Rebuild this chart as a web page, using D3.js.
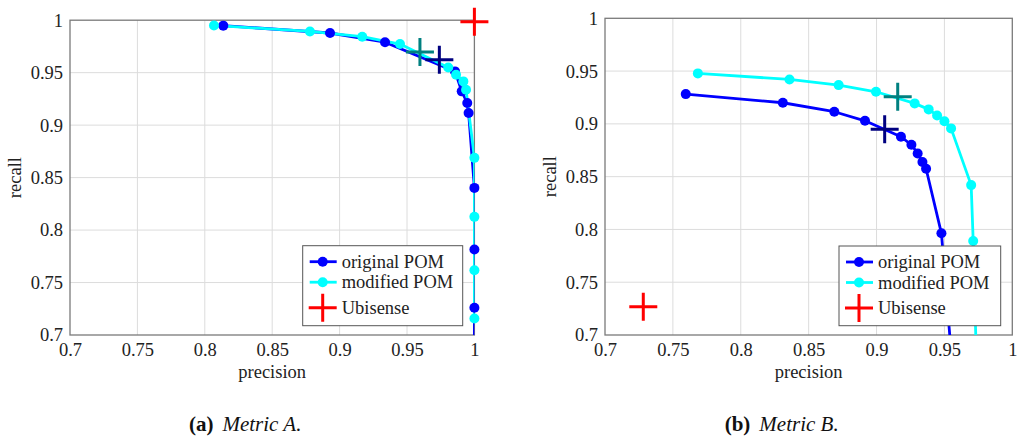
<!DOCTYPE html>
<html>
<head>
<meta charset="utf-8">
<script src="https://cdn.jsdelivr.net/npm/d3@7"></script>
<style>
  body { margin: 0; background: #fff; }
  svg text { font-family: "Liberation Serif", serif; }
  .tick text { font-size: 18.5px; fill: #222; }
  .lbl { font-size: 18.5px; fill: #222; }
</style>
</head>
<body>
<div id="chart"></div>
<script>
var width = 1024, height = 440;

// Metric A
var origA_prec = [0.8137, 0.8929, 0.9337, 0.9856, 0.9906, 0.9947, 0.9957, 1.0, 1.0, 1.0, 1.0];
var origA_rec  = [0.9948, 0.9878, 0.979, 0.9512, 0.9322, 0.9211, 0.9116, 0.8402, 0.7814, 0.7259, 0.62];
var modA_prec  = [0.8068, 0.878, 0.9168, 0.9448, 0.9806, 0.9864, 0.9918, 0.9938, 1.0, 1.0, 1.0, 1.0];
var modA_rec   = [0.995, 0.9893, 0.9843, 0.9773, 0.955, 0.948, 0.9417, 0.9338, 0.8688, 0.8126, 0.7617, 0.7157];
// single operating points: [original, modified, ubisense]
var pointA_prec = [0.974, 0.9596, 1.0];
var pointA_rec  = [0.9624, 0.9697, 0.9986];

// Metric B
var origB_prec = [0.7595, 0.831, 0.8689, 0.8915, 0.918, 0.9257, 0.9303, 0.9338, 0.9365, 0.9478, 0.9552];
var origB_rec  = [0.9282, 0.92, 0.9115, 0.9029, 0.8878, 0.8802, 0.872, 0.8638, 0.8575, 0.7963, 0.68];
var modB_prec  = [0.7684, 0.8359, 0.8721, 0.8996, 0.9281, 0.9384, 0.9446, 0.95, 0.9549, 0.9697, 0.9712, 0.9735];
var modB_rec   = [0.9478, 0.9421, 0.9367, 0.9304, 0.9194, 0.9137, 0.908, 0.9024, 0.8957, 0.842, 0.789, 0.68];
var pointB_prec = [0.906, 0.9156, 0.7282];
var pointB_rec  = [0.8948, 0.9257, 0.7268];

var ticks = [0.7, 0.75, 0.8, 0.85, 0.9, 0.95, 1];
var legendNames = ["original POM", "modified POM", "Ubisense"];
var lineColors = ["#0000ff", "#00ffff"];
var crossColors = ["#000080", "#008080", "#ff0000"];

var svg = d3.select("#chart").append("svg").attr("width", width).attr("height", height);

function zip(a, b) {
  return a.map(function(v, i) { return [v, b[i]]; });
}

function drawPanel(id, box, series, points, legendBox, caption) {
  var x = d3.scaleLinear().domain([0.7, 1]).range([box.x0, box.x1]);
  var y = d3.scaleLinear().domain([0.7, 1]).range([box.y0, box.y1]);
  var g = svg.append("g");

  g.append("clipPath").attr("id", "clip" + id).append("rect")
    .attr("x", box.x0).attr("y", box.y1)
    .attr("width", box.x1 - box.x0).attr("height", box.y0 - box.y1);

  // grid
  g.selectAll(".gx").data(ticks.slice(1, -1)).enter().append("line")
    .attr("x1", function(d) { return x(d); }).attr("x2", function(d) { return x(d); })
    .attr("y1", box.y0).attr("y2", box.y1)
    .attr("stroke", "#dcdcdc").attr("stroke-width", 1);
  g.selectAll(".gy").data(ticks.slice(1, -1)).enter().append("line")
    .attr("y1", function(d) { return y(d); }).attr("y2", function(d) { return y(d); })
    .attr("x1", box.x0).attr("x2", box.x1)
    .attr("stroke", "#dcdcdc").attr("stroke-width", 1);

  var fmt = function(d) { return String(+d.toFixed(2)); };
  var xa = g.append("g").attr("transform", "translate(0," + box.y0 + ")")
    .call(d3.axisBottom(x).tickValues(ticks).tickFormat(fmt).tickSize(0).tickPadding(8));
  var ya = g.append("g").attr("transform", "translate(" + box.x0 + ",0)")
    .call(d3.axisLeft(y).tickValues(ticks).tickFormat(fmt).tickSize(0).tickPadding(7));
  xa.select(".domain").remove();
  ya.select(".domain").remove();
  xa.attr("font-family", null);
  ya.attr("font-family", null);

  g.append("rect").attr("x", box.x0).attr("y", box.y1)
    .attr("width", box.x1 - box.x0).attr("height", box.y0 - box.y1)
    .attr("fill", "none").attr("stroke", "#7a7a7a").attr("stroke-width", 1.3);

  var line = d3.line().x(function(d) { return x(d[0]); }).y(function(d) { return y(d[1]); });

  series.forEach(function(s, i) {
    g.append("path").datum(s).attr("d", line)
      .attr("clip-path", "url(#clip" + id + ")")
      .attr("fill", "none").attr("stroke", lineColors[i]).attr("stroke-width", 2.8)
      .attr("stroke-linejoin", "round");
  });
  series.forEach(function(s, i) {
    g.selectAll(".m" + i).data(s.filter(function(d) { return d[1] >= 0.7 && d[0] >= 0.7; }))
      .enter().append("circle")
      .attr("cx", function(d) { return x(d[0]); })
      .attr("cy", function(d) { return y(d[1]); })
      .attr("r", 5).attr("fill", lineColors[i]);
  });

  function cross(sel, cx, cy, color) {
    sel.append("path")
      .attr("d", "M" + (cx - 14) + "," + cy + "H" + (cx + 14) + "M" + cx + "," + (cy - 14) + "V" + (cy + 14))
      .attr("stroke", color).attr("stroke-width", 3).attr("fill", "none");
  }
  points.forEach(function(p, i) {
    cross(g, x(p[0]), y(p[1]), crossColors[i]);
  });

  // legend
  var lg = g.append("g").attr("transform", "translate(" + legendBox.x + "," + legendBox.y + ")");
  lg.append("rect").attr("width", legendBox.w).attr("height", legendBox.h)
    .attr("fill", "#fff").attr("stroke", "#555").attr("stroke-width", 1);
  var rows = [16, 36.5, 62];
  legendNames.forEach(function(name, i) {
    if (i < 2) {
      lg.append("line").attr("x1", 7).attr("x2", 34).attr("y1", rows[i]).attr("y2", rows[i])
        .attr("stroke", lineColors[i]).attr("stroke-width", 2.8);
      lg.append("circle").attr("cx", 20).attr("cy", rows[i]).attr("r", 5).attr("fill", lineColors[i]);
    } else {
      cross(lg, 20, rows[i], crossColors[2]);
    }
    lg.append("text").attr("class", "lbl").attr("x", 39).attr("y", rows[i]).attr("dy", "0.33em")
      .text(name);
  });

  g.append("text").attr("class", "lbl").attr("text-anchor", "middle")
    .attr("x", (box.x0 + box.x1) / 2).attr("y", 378).text("precision");
  g.append("text").attr("class", "lbl").attr("text-anchor", "middle")
    .attr("transform", "translate(" + (box.x0 - 49) + "," + ((box.y0 + box.y1) / 2) + ")rotate(-90)")
    .text("recall");

  var cap = g.append("text").attr("text-anchor", "middle").attr("font-size", 21).attr("fill", "#111")
    .attr("x", (box.x0 + box.x1) / 2 - 27).attr("y", 431);
  cap.append("tspan").attr("font-weight", "bold").text(caption[0]);
  cap.append("tspan").attr("dx", 9).attr("font-style", "italic").text(caption[1]);
}

drawPanel("A", { x0: 70, x1: 474.4, y0: 335, y1: 20.2 },
  [zip(origA_prec, origA_rec), zip(modA_prec, modA_rec)],
  zip(pointA_prec, pointA_rec),
  { x: 302.7, y: 245.7, w: 160, h: 80 }, ["(a)", "Metric A."]);

drawPanel("B", { x0: 605, x1: 1012.3, y0: 335, y1: 18.3 },
  [zip(origB_prec, origB_rec), zip(modB_prec, modB_rec)],
  zip(pointB_prec, pointB_rec),
  { x: 839, y: 246, w: 161.7, h: 79.7 }, ["(b)", "Metric B."]);
</script>
</body>
</html>
